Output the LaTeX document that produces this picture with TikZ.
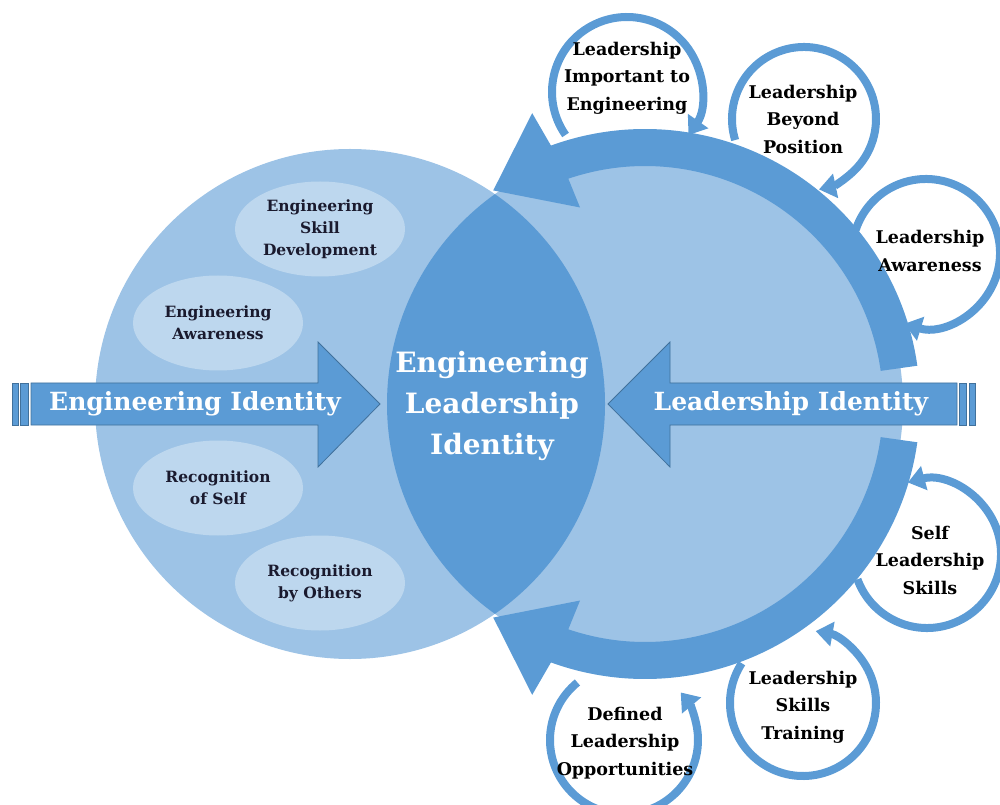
\documentclass[tikz,border=0pt]{standalone}
\usepackage{fontspec}
\setmainfont{DejaVu Serif}
\usetikzlibrary{arrows.meta,shapes.geometric}
\definecolor{lightb}{HTML}{9DC3E6}
\definecolor{darkb}{HTML}{5B9BD5}
\definecolor{palb}{HTML}{BDD7EE}
\definecolor{edgeb}{HTML}{41719C}
\definecolor{navy}{HTML}{1A1A2E}
\begin{document}
\begin{tikzpicture}[x=1pt,y=1pt,
  satring/.style={draw=darkb, line width=8pt, -{Triangle[width=24pt,length=17pt]}},
  sattext/.style={align=center, text=black, font=\bfseries\fontsize{17.5}{27.5}\selectfont},
  ellbox/.style={ellipse, fill=palb, minimum width=170pt, minimum height=95pt, inner sep=0pt,
    align=center, text=navy, font=\bfseries\fontsize{15.5}{22}\selectfont},
  bigarrow/.style={fill=darkb, draw=edgeb, line width=0.8pt},
  arrowtext/.style={text=white, font=\bfseries\fontsize{25}{30}\selectfont}]
\useasboundingbox (0,0) rectangle (1000,804);
% main circles
\node[circle, fill=lightb, minimum size=510pt, inner sep=0pt] (lc) at (350,400) {};
\node[circle, fill=lightb, minimum size=516pt, inner sep=0pt] (rc) at (645,400) {};
\begin{scope}
  \clip (350,400) circle[radius=255];
  \fill[darkb] (645,400) circle[radius=258];
\end{scope}
% ellipses
\node[ellbox] (esd) at (320,575) {Engineering\\Skill\\Development};
\node[ellbox] (ea) at (218,481) {Engineering\\Awareness};
\node[ellbox] (ros) at (218,316) {Recognition\\of Self};
\node[ellbox] (rbo) at (320,221) {Recognition\\by Others};
% curved band arrows
\begin{scope}[shift={(645,400)}]
  \fill[darkb] (8:275) arc[start angle=8, end angle=110, radius=275]
    -- (111.2:312) -- (125.4:262) -- (108.3:207) -- (108.8:238)
    arc[start angle=108.8, end angle=8, radius=238] -- cycle;
  \fill[darkb] (-8:275) arc[start angle=-8, end angle=-110, radius=275]
    -- (-111.2:312) -- (-125.4:262) -- (-108.3:207) -- (-108.8:238)
    arc[start angle=-108.8, end angle=-8, radius=238] -- cycle;
\end{scope}
% straight arrows
\draw[bigarrow] (31,379) -- (318,379) -- (318,337) -- (380,400) -- (318,462) -- (318,421) -- (31,421) -- cycle;
\draw[bigarrow] (12,379) rectangle (18,421);
\draw[bigarrow] (20,379) rectangle (28,421);
\draw[bigarrow] (957,379) -- (670,379) -- (670,337) -- (608,400) -- (670,462) -- (670,421) -- (957,421) -- cycle;
\draw[bigarrow] (959,379) rectangle (966,421);
\draw[bigarrow] (969,379) rectangle (975,421);
\node[arrowtext] (eid) at (195,400) {Engineering Identity};
\node[arrowtext] (lid) at (791,400) {Leadership Identity};
\node[align=center, text=white, font=\bfseries\fontsize{28}{41}\selectfont] (eli) at (492,398) {Engineering\\Leadership\\Identity};
% satellite rings
\draw[satring] (627,712) ++(215:75) arc[start angle=215, end angle=-35, radius=75];
\draw[satring] (804,685) ++(197:72) arc[start angle=197, end angle=-78, radius=72];
\draw[satring] (926,551) ++(162:74) arc[start angle=162, end angle=-107, radius=74];
\draw[satring] (927,250) ++(200:74) arc[start angle=200, end angle=465, radius=74];
\draw[satring] (803,101) ++(147:73) arc[start angle=147, end angle=440, radius=73];
\draw[satring] (624,64) ++(129:74) arc[start angle=129, end angle=400, radius=74];
% satellite texts
\node[sattext] (s1) at (627,726) {Leadership\\Important to\\Engineering};
\node[sattext] (s2) at (803,685) {Leadership\\Beyond\\Position};
\node[sattext] (s3) at (930,553) {Leadership\\Awareness};
\node[sattext] (s4) at (930,244) {Self\\Leadership\\Skills};
\node[sattext] (s5) at (803,97) {Leadership\\Skills\\Training};
\node[sattext] (s6) at (625,61) {Defined\\Leadership\\Opportunities};
\end{tikzpicture}
\end{document}
